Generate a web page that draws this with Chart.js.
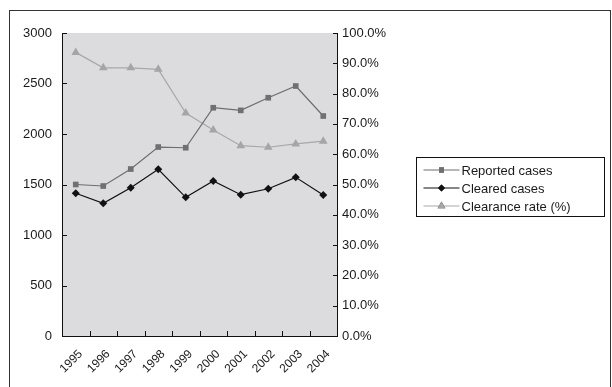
<!DOCTYPE html>
<html>
<head>
<meta charset="utf-8">
<script src="https://cdn.jsdelivr.net/npm/chart.js@4.4.1/dist/chart.umd.min.js"></script>
<style>
  html, body { margin: 0; padding: 0; background: #fff; }
  #wrap { position: relative; width: 612px; height: 387px; }
</style>
</head>
<body>
<div id="wrap"><canvas id="casesChart" width="612" height="387"></canvas></div>
<script>
// yearly figures
const years = ['1995', '1996', '1997', '1998', '1999', '2000', '2001', '2002', '2003', '2004'];
const reportedCases = [1500, 1485, 1653, 1871, 1864, 2260, 2234, 2359, 2475, 2178];
const clearedCases = [1413, 1314, 1468, 1650, 1373, 1535, 1399, 1458, 1571, 1396];
const clearanceRate = [93.6, 88.5, 88.5, 88.0, 73.6, 68.0, 62.8, 62.3, 63.4, 64.3];

const countTicks = [0, 500, 1000, 1500, 2000, 2500, 3000];
const rateTicks = [0, 10, 20, 30, 40, 50, 60, 70, 80, 90, 100];

const FONT = '"Liberation Sans", Arial, sans-serif';
const TEXT = '#1a1a1a';

// grey plot area, frame, inward tick marks and the boxed legend
const decorations = {
    id: 'decorations',
    beforeDraw(chart) {
        const { ctx, chartArea: a } = chart;
        ctx.save();
        ctx.fillStyle = '#dcdcde';
        ctx.fillRect(a.left, a.top, a.right - a.left, a.bottom - a.top);
        ctx.strokeStyle = '#333';
        ctx.lineWidth = 1;
        ctx.strokeRect(9.5, 10.5, 601, 420);
        ctx.restore();
    },
    afterDatasetsDraw(chart) {
        const { ctx, chartArea: a, scales } = chart;
        ctx.save();
        ctx.strokeStyle = '#111';
        ctx.lineWidth = 1;
        ctx.beginPath();
        ctx.moveTo(a.left + 0.5, a.top);
        ctx.lineTo(a.left + 0.5, a.bottom + 0.5);
        ctx.lineTo(a.right + 0.5, a.bottom + 0.5);
        ctx.lineTo(a.right + 0.5, a.top);
        countTicks.forEach(v => {
            const y = Math.round(scales.y.getPixelForValue(v)) + 0.5;
            ctx.moveTo(a.left, y);
            ctx.lineTo(a.left + 5, y);
        });
        rateTicks.forEach(v => {
            const y = Math.round(scales.y1.getPixelForValue(v)) + 0.5;
            ctx.moveTo(a.right - 4, y);
            ctx.lineTo(a.right + 1, y);
        });
        const step = scales.x.getPixelForValue(1) - scales.x.getPixelForValue(0);
        for (let i = 0; i <= years.length; i++) {
            const x = Math.round(scales.x.getPixelForValue(i) - step / 2) + 0.5;
            ctx.moveTo(x, a.bottom);
            ctx.lineTo(x, a.bottom - 5);
        }
        ctx.stroke();

        // legend
        const bx = 416.5, by = 157.5, bw = 188, bh = 59;
        ctx.strokeStyle = '#111';
        ctx.strokeRect(bx, by, bw, bh);
        ctx.font = '13px ' + FONT;
        ctx.textBaseline = 'middle';
        chart.data.datasets.forEach((ds, i) => {
            const y = by + 12.5 + i * 18;
            ctx.strokeStyle = ds.borderColor;
            ctx.lineWidth = 1;
            ctx.beginPath();
            ctx.moveTo(bx + 7, y);
            ctx.lineTo(bx + 43, y);
            ctx.stroke();
            Chart.helpers.drawPoint(ctx, {
                pointStyle: ds.pointStyle,
                radius: ds.pointRadius - 0.5,
                rotation: 0,
                borderWidth: 0
            }, bx + 25, y);
            ctx.fillStyle = ds.pointBackgroundColor;
            ctx.fill();
            ctx.fillStyle = TEXT;
            ctx.fillText(ds.label, bx + 45, y + 1);
        });
        ctx.restore();
    }
};

new Chart(document.getElementById('casesChart'), {
    type: 'line',
    data: {
        labels: years,
        datasets: [
            {
                label: 'Reported cases',
                data: reportedCases,
                borderColor: '#6e6e6e',
                borderWidth: 1.2,
                pointStyle: 'rect',
                pointRadius: 4,
                pointBackgroundColor: '#707070',
                pointBorderWidth: 0,
                yAxisID: 'y'
            },
            {
                label: 'Cleared cases',
                data: clearedCases,
                borderColor: '#111',
                borderWidth: 1.2,
                pointStyle: 'rectRot',
                pointRadius: 4,
                pointBackgroundColor: '#111',
                pointBorderWidth: 0,
                yAxisID: 'y'
            },
            {
                label: 'Clearance rate (%)',
                data: clearanceRate,
                borderColor: '#a8a8a8',
                borderWidth: 1.2,
                pointStyle: 'triangle',
                pointRadius: 5,
                pointBackgroundColor: '#a5a5a5',
                pointBorderWidth: 0,
                yAxisID: 'y1'
            }
        ]
    },
    options: {
        responsive: false,
        animation: false,
        events: [],
        layout: { padding: { left: 0, top: 33, right: 0, bottom: 0 } },
        plugins: {
            legend: { display: false },
            tooltip: { enabled: false }
        },
        scales: {
            x: {
                offset: true,
                grid: { display: false, drawTicks: false },
                border: { display: false },
                ticks: {
                    color: TEXT,
                    font: { family: FONT, size: 12 },
                    minRotation: 45,
                    maxRotation: 45,
                    padding: 11,
                    labelOffset: 5
                },
                afterFit(scale) { scale.height = 51; }
            },
            y: {
                position: 'left',
                min: 0,
                max: 3000,
                grid: { display: false, drawTicks: false },
                border: { display: false },
                ticks: {
                    stepSize: 500,
                    color: TEXT,
                    font: { family: FONT, size: 13 },
                    padding: 10,
                    callback: v => String(v)
                },
                afterFit(scale) { scale.width = 62; }
            },
            y1: {
                position: 'right',
                min: 0,
                max: 100,
                grid: { display: false, drawTicks: false },
                border: { display: false },
                ticks: {
                    stepSize: 10,
                    color: TEXT,
                    font: { family: FONT, size: 13 },
                    padding: 5,
                    callback: v => v.toFixed(1) + '%'
                },
                afterFit(scale) { scale.width = 275; }
            }
        }
    },
    plugins: [decorations]
});
</script>
</body>
</html>
